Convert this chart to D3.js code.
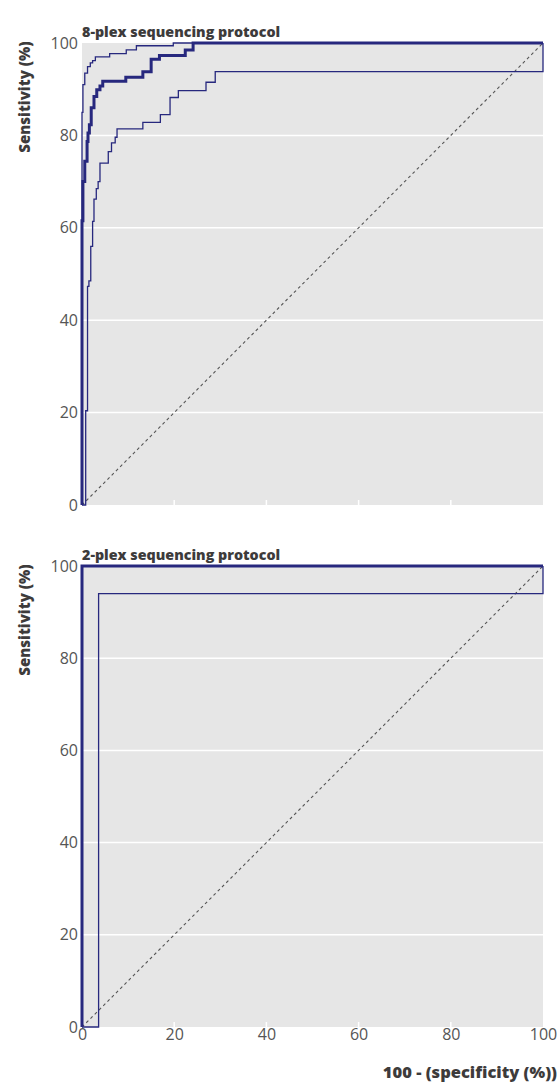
<!DOCTYPE html>
<html lang="en">
<head>
    <meta charset="UTF-8">
    <title>ROC curves</title>
    <script src="https://cdn.jsdelivr.net/npm/d3@7"></script>
    <style>
    html,body{
        margin:0;
        background:#fff;
    }
    .tick text{
        font-family:"Open Sans",sans-serif;
        font-size:16px;
        fill:#555;
    }
    .title,.axis-label{
        font-family:"Open Sans",sans-serif;
        font-weight:800;
        fill:#3d3b3b;
    }
    </style>
</head>
<body>
<script>
// ROC points (100 - specificity, sensitivity); each point is the top of a vertical step
const plex8Main  = [[0,0],[0,61.5],[0.2,70],[0.6,74.4],[1.1,78.7],[1.3,80.5],[1.6,82.3],[2.0,86],[2.6,88.4],[3.2,89.9],[3.9,90.7],[4.5,91.7],[9.5,92.6],[13.2,93.8],[15.0,96.5],[16.8,97.3],[22.4,98.5],[24.1,100],[100,100]];
const plex8Upper = [[0,0],[0,85],[0.2,91],[0.6,93.5],[1.2,94.9],[1.8,95.7],[2.3,96.2],[2.9,97],[6.0,97.7],[9.6,98.5],[11.8,99.4],[19.8,100],[100,100]];
const plex8Lower = [[0,0],[0.8,20.4],[1.2,47.3],[1.5,48.5],[1.9,56],[2.3,61.4],[2.6,66.2],[3.1,68.5],[3.5,70],[3.9,74],[5.7,76.5],[6.4,78.4],[7.2,79.6],[7.6,81.4],[13.2,82.8],[17,84.5],[19.1,88.2],[20.9,89.7],[26.9,91.5],[28.9,93.8],[100,100]];

const plex2Main  = [[0,0],[0,100],[100,100]];
const plex2Upper = [[0,0],[0,100],[100,100]];
const plex2Lower = [[0,0],[3.6,94],[100,100]];

const yTicks = [0,20,40,60,80,100];
const xTicks = [0,20,40,60,80,100];

const panels = [
    {title:"8-plex sequencing protocol", main:plex8Main, upper:plex8Upper, lower:plex8Lower, top:43, bottom:505, xLabels:false},
    {title:"2-plex sequencing protocol", main:plex2Main, upper:plex2Upper, lower:plex2Lower, top:566, bottom:1027, xLabels:true}
];

const W = 559, H = 1086;
const navy = "#27287e";

let svg = d3.select("body").append("svg")
    .attr("width",W)
    .attr("height",H);

let x = d3.scaleLinear().domain([0,100]).range([82,543]);

panels.forEach(p => {
    let y = d3.scaleLinear().domain([0,100]).range([p.bottom,p.top]);
    let g = svg.append("g");

    g.append("rect")
        .attr("x",x(0)).attr("y",y(100))
        .attr("width",x(100)-x(0)).attr("height",y(0)-y(100))
        .attr("fill","#e6e6e6");

    // horizontal white grid
    g.selectAll(".hgrid").data(yTicks.slice(1,-1)).join("line")
        .attr("x1",x(0)).attr("x2",x(100))
        .attr("y1",d=>y(d)).attr("y2",d=>y(d))
        .attr("stroke","#fff").attr("stroke-width",1.5);

    // small white ticks at the bottom
    g.selectAll(".xt").data(xTicks.slice(1,-1)).join("line")
        .attr("x1",d=>x(d)).attr("x2",d=>x(d))
        .attr("y1",y(0)).attr("y2",y(0)-5)
        .attr("stroke","#fff").attr("stroke-width",1.5);

    let yAxis = g.append("g")
        .attr("transform",`translate(${x(0)},0)`)
        .call(d3.axisLeft(y).tickValues(yTicks).tickSize(0).tickPadding(4));
    yAxis.select(".domain").remove();

    if(p.xLabels){
        let xAxis = g.append("g")
            .attr("transform",`translate(0,${y(0)})`)
            .call(d3.axisBottom(x).tickValues(xTicks).tickSize(0).tickPadding(2));
        xAxis.select(".domain").remove();
    }

    g.append("line")
        .attr("x1",x(0)).attr("y1",y(0))
        .attr("x2",x(100)).attr("y2",y(100))
        .attr("stroke","#555").attr("stroke-width",1.1)
        .attr("stroke-dasharray","3,3");

    let line = d3.line()
        .x(d=>x(d[0]))
        .y(d=>y(d[1]))
        .curve(d3.curveStepAfter);

    [[p.lower,1.3],[p.upper,1.3],[p.main,3]].forEach(([data,w]) => {
        g.append("path")
            .datum(data)
            .attr("d",line)
            .attr("fill","none")
            .attr("stroke",navy)
            .attr("stroke-width",w)
            .attr("stroke-linejoin","miter");
    });

    g.append("text")
        .attr("class","title")
        .attr("x",x(0))
        .attr("y",y(100)-6)
        .attr("font-size",14.3)
        .text(p.title);

    g.append("text")
        .attr("class","axis-label")
        .attr("font-size",15)
        .attr("text-anchor","middle")
        .attr("transform",`translate(30,${y(100)+54}) rotate(-90)`)
        .text("Sensitivity (%)");
});

svg.append("text")
    .attr("class","axis-label")
    .attr("x",557)
    .attr("y",1078)
    .attr("font-size",16.5)
    .attr("text-anchor","end")
    .text("100 - (specificity (%))");
</script>
</body>
</html>
